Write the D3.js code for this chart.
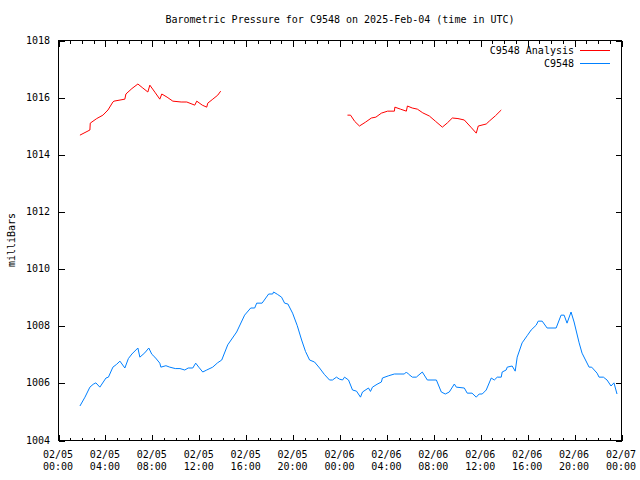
<!DOCTYPE html>
<html><head><meta charset="utf-8">
<script src="https://cdn.jsdelivr.net/npm/d3@7"></script>
<style>body{margin:0;background:#fff}svg{display:block}text{font-family:"DejaVu Sans Mono",monospace;font-size:10px;fill:#000}</style>
</head><body><svg id="c" width="640" height="480"></svg>
<script>
const titleText = "Barometric Pressure for C9548 on 2025-Feb-04 (time in UTC)";
const yLabel = "milliBars";
const startTime = Date.UTC(2025, 1, 5, 0, 0);
const yTicks = [1004, 1006, 1008, 1010, 1012, 1014, 1016, 1018];
const seriesNames = ["C9548 Analysis", "C9548"];

// hours after 02/05 00:00 UTC
const analysisHoursA = [1.87,2.72,2.75,3.3,3.83,4.26,4.68,4.77,5.70,5.79,6.3,6.81,7.23,7.66,7.83,8.3,8.68,8.85,9.3,9.79,10.5,10.98,11.66,11.83,12.3,12.68,12.77,13.2,13.62,13.87];
const analysisValuesA = [1014.67,1014.85,1015.09,1015.25,1015.37,1015.55,1015.83,1015.86,1015.93,1016.11,1016.3,1016.46,1016.32,1016.18,1016.42,1016.15,1015.93,1016.11,1016.0,1015.86,1015.83,1015.83,1015.72,1015.86,1015.72,1015.65,1015.79,1015.93,1016.07,1016.21];
const analysisHoursB = [24.68,24.94,25.3,25.70,26.2,26.72,27.1,27.57,28.1,28.68,28.72,29.2,29.7,29.79,30.2,30.64,31.1,31.66,32.2,32.77,33.2,33.62,34.1,34.64,35.2,35.66,35.83,36.51,36.77,37.3,37.79];
const analysisValuesB = [1015.37,1015.37,1015.15,1014.99,1015.12,1015.27,1015.3,1015.44,1015.51,1015.51,1015.65,1015.58,1015.51,1015.69,1015.62,1015.58,1015.45,1015.34,1015.15,1014.95,1015.1,1015.27,1015.25,1015.2,1014.95,1014.74,1014.99,1015.06,1015.16,1015.35,1015.55];
const obsHours = [1.87,2.3,2.72,3.0,3.23,3.57,4.09,4.3,4.68,5.0,5.28,5.70,6.0,6.3,6.81,6.98,7.4,7.74,8.0,8.26,8.68,8.77,9.2,9.53,10.0,10.4,10.81,11.1,11.49,11.74,12.0,12.34,12.68,13.19,13.6,13.96,14.47,15.23,15.91,16.43,16.77,16.94,17.4,17.96,18.3,18.38,18.7,19.06,19.32,19.6,20.0,20.4,20.77,21.1,21.45,21.87,22.3,22.7,23.15,23.4,23.74,24.0,24.26,24.43,24.77,25.11,25.45,25.79,25.96,26.47,26.64,26.81,27.2,27.57,27.66,28.2,28.68,29.53,29.7,29.87,30.21,30.55,31.06,31.49,32.26,32.68,33.02,33.36,33.79,33.96,34.64,34.89,35.3,35.66,35.91,36.17,36.51,36.94,37.2,37.45,37.79,37.87,38.21,38.3,38.72,38.98,39.15,39.57,40.0,40.34,40.77,40.94,41.28,41.7,42.47,42.89,43.15,43.4,43.74,44.0,44.43,44.68,45.28,45.5,45.96,46.13,46.5,46.81,47.15,47.4,47.66];
const obsValues = [1005.19,1005.5,1005.85,1005.95,1006.0,1005.85,1006.17,1006.2,1006.55,1006.65,1006.76,1006.52,1006.85,1007.01,1007.22,1006.9,1007.05,1007.22,1007.0,1006.9,1006.69,1006.55,1006.6,1006.55,1006.5,1006.5,1006.45,1006.52,1006.52,1006.69,1006.55,1006.38,1006.45,1006.55,1006.7,1006.8,1007.33,1007.78,1008.37,1008.62,1008.62,1008.79,1008.79,1009.11,1009.11,1009.18,1009.1,1009.0,1008.79,1008.76,1008.44,1008.0,1007.5,1007.1,1006.8,1006.73,1006.52,1006.3,1006.1,1006.1,1006.2,1006.13,1006.1,1006.2,1006.1,1005.75,1005.71,1005.5,1005.68,1005.82,1005.7,1005.85,1005.95,1006.03,1006.17,1006.25,1006.31,1006.31,1006.38,1006.31,1006.2,1006.2,1006.38,1006.1,1006.1,1005.68,1005.61,1005.68,1005.96,1005.85,1005.82,1005.64,1005.64,1005.5,1005.61,1005.61,1005.75,1006.17,1006.1,1006.2,1006.2,1006.38,1006.45,1006.55,1006.59,1006.41,1006.9,1007.4,1007.65,1007.85,1008.02,1008.16,1008.16,1007.92,1007.92,1008.37,1008.37,1008.09,1008.48,1008.13,1007.4,1007.04,1006.55,1006.55,1006.34,1006.2,1006.2,1006.1,1005.89,1006.0,1005.61];

const colors = ["#ff0000", "#0080ff"];
const L = 58, R = 621, T = 40, B = 440;
const svg = d3.select("#c");
const toDate = h => new Date(startTime + h * 3600e3);
const x = d3.scaleUtc().domain([toDate(0), toDate(48)]).range([L, R]);
const y = d3.scaleLinear().domain([1004, 1018]).range([B, T]);

const g = svg.append("g").attr("shape-rendering", "crispEdges");
const majorX = d3.utcHour.every(4).range(toDate(0), toDate(48.01));
const minorX = d3.utcHour.every(1).range(toDate(0), toDate(48.01));
const fmt1 = d3.utcFormat("%m/%d"), fmt2 = d3.utcFormat("%H:%M");
const axBottom = d3.axisBottom(x).tickValues(majorX).tickSizeInner(-6).tickSizeOuter(0).tickFormat("");
const axTop = d3.axisTop(x).tickValues(majorX).tickSizeInner(-6).tickSizeOuter(0).tickFormat("");
const axBottomMinor = d3.axisBottom(x).tickValues(minorX).tickSizeInner(-3).tickSizeOuter(0).tickFormat("");
const axTopMinor = d3.axisTop(x).tickValues(minorX).tickSizeInner(-3).tickSizeOuter(0).tickFormat("");
const axLeft = d3.axisLeft(y).tickValues(yTicks).tickSizeInner(-6).tickSizeOuter(0).tickFormat("");
const axRight = d3.axisRight(y).tickValues(yTicks).tickSizeInner(-6).tickSizeOuter(0).tickFormat("");
[[axBottom, `translate(0.5,${B + 0.5})`], [axBottomMinor, `translate(0.5,${B + 0.5})`], [axTop, `translate(0.5,${T + 0.5})`], [axTopMinor, `translate(0.5,${T + 0.5})`], [axLeft, `translate(${L + 0.5},0.5)`], [axRight, `translate(${R + 0.5},0.5)`]].forEach(([ax, tr]) => {
  const a = g.append("g").attr("transform", tr).call(ax);
  a.select(".domain").remove();
  a.selectAll("line").attr("stroke", "#000");
});
g.append("rect").attr("x", L + 0.5).attr("y", T + 0.5).attr("width", R - L).attr("height", B - T)
  .attr("fill", "none").attr("stroke", "#000");

svg.append("g").selectAll("text").data(yTicks).join("text")
  .attr("x", L - 8).attr("y", d => y(d)).attr("dy", "0.35em").attr("text-anchor", "end").text(d => d);
const xl = svg.append("g").selectAll("text").data(majorX).join("text")
  .attr("x", d => x(d)).attr("text-anchor", "middle");
xl.append("tspan").attr("x", d => x(d)).attr("y", 458).text(d => fmt1(d));
xl.append("tspan").attr("x", d => x(d)).attr("y", 470).text(d => fmt2(d));

svg.append("text").attr("x", 340).attr("y", 23).attr("text-anchor", "middle").text(titleText);
svg.append("text").attr("transform", "translate(15,240) rotate(-90)").attr("text-anchor", "middle").text(yLabel);

const line = d3.line().x(d => x(toDate(d[0]))).y(d => y(d[1]));
const plot = svg.append("g");
[[analysisHoursA, analysisValuesA, 0], [analysisHoursB, analysisValuesB, 0], [obsHours, obsValues, 1]].forEach(([hs, vs, ci]) => {
  plot.append("path").datum(hs.map((h, i) => [h, vs[i]])).attr("d", line)
    .attr("fill", "none").attr("stroke", colors[ci]).attr("stroke-width", 1);
});

seriesNames.forEach((n, i) => {
  const yy = 50 + i * 13;
  svg.append("text").attr("x", 574).attr("y", yy).attr("dy", "0.35em").attr("text-anchor", "end").text(n);
  svg.append("line").attr("x1", 580).attr("x2", 610).attr("y1", yy + 0.5).attr("y2", yy + 0.5)
    .attr("stroke", colors[i]).attr("shape-rendering", "crispEdges");
});
</script></body></html>
